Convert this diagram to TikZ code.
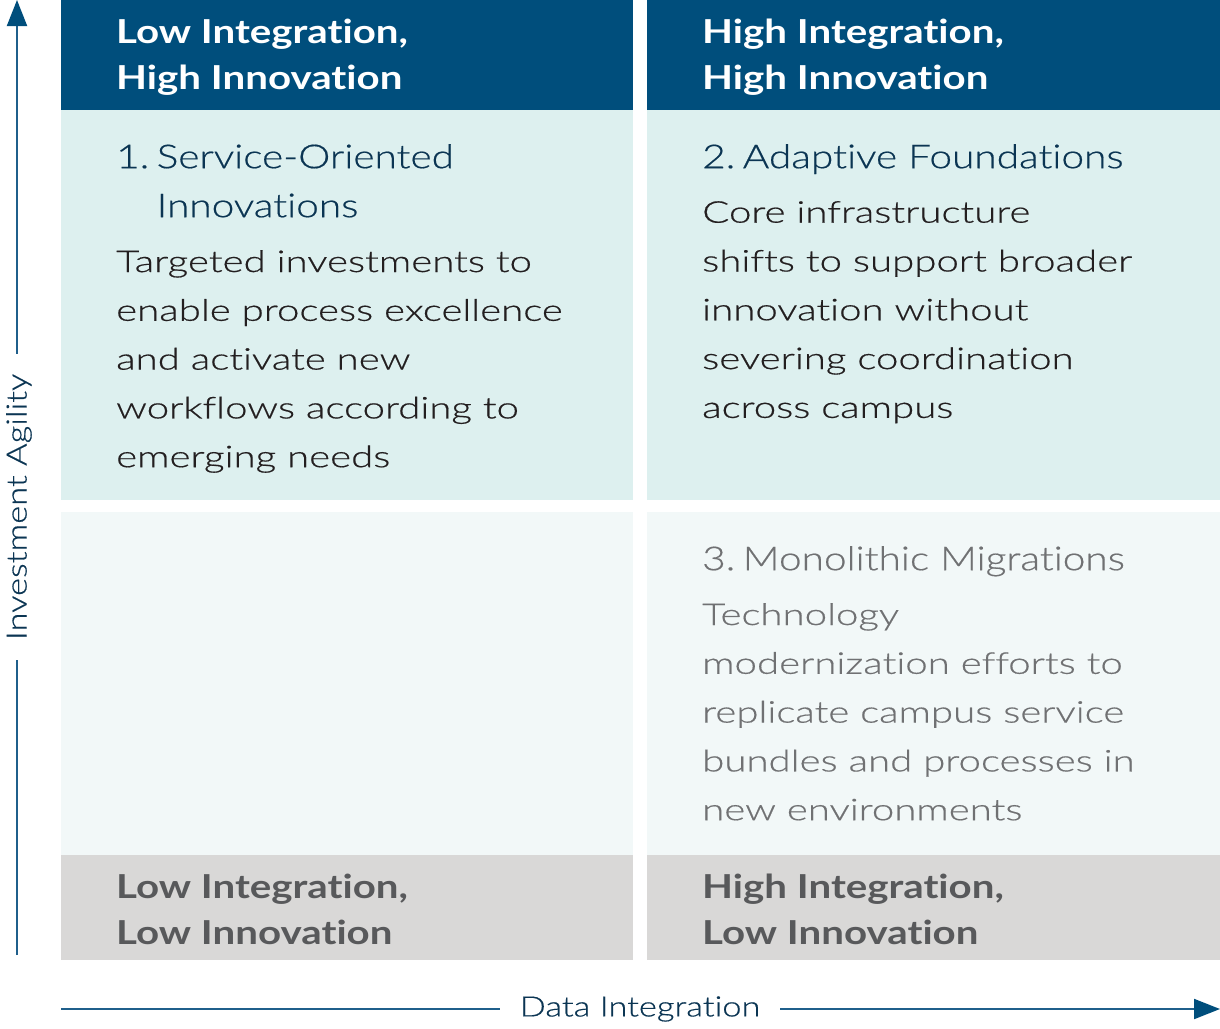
\documentclass[tikz,border=0pt]{standalone}
\usepackage{fontspec}
\setmainfont{Lato}
\newfontfamily\hdrf[FakeStretch=1.22,Ligatures=NoCommon]{Lato}
\newfontfamily\titlef[FakeStretch=1.23,FakeBold=0.5,Ligatures=NoCommon]{Lato Light}
\newfontfamily\bodyf[FakeStretch=1.34,FakeBold=0.5,Ligatures=NoCommon]{Lato Light}
\newfontfamily\axisf[FakeStretch=1.23,FakeBold=0.5,Ligatures=NoCommon]{Lato Light}
\usetikzlibrary{arrows.meta}
\definecolor{hdr}{HTML}{004E7C}
\definecolor{teal}{HTML}{DDF0EF}
\definecolor{pale}{HTML}{F2F8F8}
\definecolor{foot}{HTML}{D9D8D7}
\definecolor{navy}{HTML}{0B3553}
\definecolor{bodyc}{HTML}{231F20}
\definecolor{grayt}{HTML}{707173}
\definecolor{foott}{HTML}{58595B}
\definecolor{axis}{HTML}{1F5F8B}
\tikzset{
  hdrtext/.style={anchor=north west, inner sep=0pt, align=left, text=white, font=\hdrf\bfseries\fontsize{33}{46}\selectfont},
  foottext/.style={hdrtext, text=foott},
  titletext/.style={anchor=north west, inner sep=0pt, align=left, text=navy, font=\titlef\fontsize{33}{49}\selectfont},
  bodytext/.style={anchor=north west, inner sep=0pt, align=left, text=bodyc, font=\bodyf\fontsize{30}{48.8}\selectfont},
  axislabel/.style={fill=white, inner xsep=20pt, inner ysep=8pt, text=navy, font=\axisf\fontsize{28}{30}\selectfont},
  axisline/.style={draw=axis, line width=2pt, -{Triangle[length=26pt,width=20pt,color=hdr]}}
}
\newcommand\numgap{\kern-3.5pt\ }
\begin{document}
\begin{tikzpicture}[x=1pt,y=-1pt]
\useasboundingbox (0,0) rectangle (1220,1028);
% cells
\fill[hdr] (61,0) rectangle (633,110);
\fill[hdr] (647,0) rectangle (1220,110);
\fill[teal] (61,110) rectangle (633,500);
\fill[teal] (647,110) rectangle (1220,500);
\fill[pale] (61,512) rectangle (633,855);
\fill[pale] (647,512) rectangle (1220,855);
\fill[foot] (61,855) rectangle (633,960);
\fill[foot] (647,855) rectangle (1220,960);
% axes
\coordinate (ybot) at (17,955);
\coordinate (ytop) at (17,0);
\coordinate (xleft) at (61,1009);
\coordinate (xright) at (1220,1009);
\draw[axisline] (ybot) -- (ytop);
\draw[axisline] (xleft) -- (xright);
\node[axislabel, rotate=90] (ylab) at (19,507) {Investment Agility};
\node[axislabel] (xlab) at (640,1009) {Data Integration};
% headers
\node[hdrtext] (h1) at (116,19) {Low Integration,\\High Innovation};
\node[hdrtext] (h2) at (702,19) {High Integration,\\High Innovation};
\node[foottext] (f1) at (116,874) {Low Integration,\\Low Innovation};
\node[foottext] (f2) at (702,874) {High Integration,\\Low Innovation};
% quadrant 1
\node[titletext] (t1) at (116,144) {1.\numgap Service-Oriented\\\hphantom{1.\numgap}Innovations};
\node[bodytext] (b1) at (116,250) {Targeted investments to\\enable process excellence\\and activate new\\workflows according to\\emerging needs};
% quadrant 2
\node[titletext] (t2) at (702,144) {2.\numgap Adaptive Foundations};
\node[bodytext] (b2) at (702,201) {Core infrastructure\\shifts to support broader\\innovation without\\severing coordination\\across campus};
% quadrant 3
\node[titletext, text=grayt] (t3) at (702,546) {3.\numgap Monolithic Migrations};
\node[bodytext, text=grayt] (b3) at (702,603) {Technology\\modernization efforts to\\replicate campus service\\bundles and processes in\\new environments};
\end{tikzpicture}
\end{document}
